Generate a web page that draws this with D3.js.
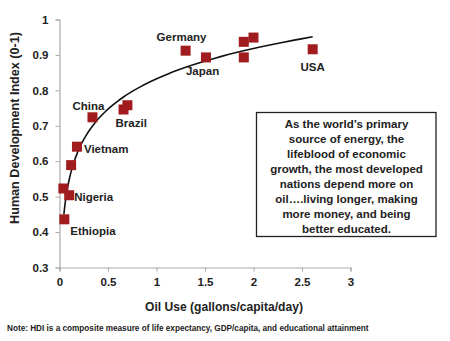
<!DOCTYPE html>
<html>
<head>
<meta charset="utf-8">
<script src="https://cdn.jsdelivr.net/npm/d3@7"></script>
<style>
  body { margin: 0; background: #fff; }
  text { font-family: "Liberation Sans", Arial, sans-serif; font-weight: bold; fill: #222; }
</style>
</head>
<body>
<div id="chart"></div>
<script>
// country points: oil use (gallons/capita/day) vs HDI
var countries = ["Germany", "Japan", "", "", "", "USA", "China", "Brazil", "", "Vietnam", "", "", "Nigeria", "Ethiopia"];
var oilUse   = [1.30, 1.51, 1.90, 2.00, 1.90, 2.61, 0.34, 0.66, 0.70, 0.18, 0.12, 0.04, 0.10, 0.05];
var hdi      = [0.912, 0.893, 0.937, 0.949, 0.893, 0.916, 0.724, 0.746, 0.758, 0.641, 0.589, 0.523, 0.504, 0.436];

var xTicks = [0, 0.5, 1, 1.5, 2, 2.5, 3];
var yTicks = [0.3, 0.4, 0.5, 0.6, 0.7, 0.8, 0.9, 1];

// logarithmic trend line y = a*ln(x) + b
var trendA = 0.1235, trendB = 0.8326;
var trendRange = [0.045, 2.61];

var boxLines = [
  "As the world\u2019s primary",
  "source of energy, the",
  "lifeblood of economic",
  "growth, the most developed",
  "nations depend more on",
  "oil\u2026.living longer, making",
  "more money, and being",
  "better educated."
];

// label offsets relative to each point
var labelPos = {
  "Germany":  { dx: -29, dy: -14, anchor: "start" },
  "Japan":    { dx: -20, dy: 14, anchor: "start" },
  "USA":      { dx: 0,   dy: 18, anchor: "middle" },
  "China":    { dx: -20, dy: -11, anchor: "start" },
  "Brazil":   { dx: -8,  dy: 13, anchor: "start" },
  "Vietnam":  { dx: 7,   dy: 2, anchor: "start" },
  "Nigeria":  { dx: 5,   dy: 2, anchor: "start" },
  "Ethiopia": { dx: 6,   dy: 12, anchor: "start" }
};

var W = 450, H = 341;
var svg = d3.select("#chart").append("svg")
    .attr("width", W)
    .attr("height", H);

var x = d3.scaleLinear().domain([0, 3]).range([59.5, 350.5]);
var y = d3.scaleLinear().domain([0.3, 1]).range([267.5, 19.5]);

// axes
var xAxis = svg.append("g")
    .attr("transform", "translate(0," + y(0.3) + ")")
    .call(d3.axisBottom(x).tickValues(xTicks).tickFormat(d3.format("")).tickSize(4).tickPadding(6));
var yAxis = svg.append("g")
    .attr("transform", "translate(" + x(0) + ",0)")
    .call(d3.axisLeft(y).tickValues(yTicks).tickFormat(d3.format("")).tickSize(4).tickPadding(7));

[xAxis, yAxis].forEach(function (g) {
  g.select(".domain").attr("stroke", "#aaa").attr("stroke-width", 1.2);
  g.selectAll(".tick line").attr("stroke", "#aaa");
  g.selectAll(".tick text")
    .attr("font-size", "11.5px")
    .attr("font-weight", "bold")
    .attr("font-family", "Liberation Sans, Arial, sans-serif")
    .attr("fill", "#222");
});

// trend line
var trendPts = d3.range(0, 101).map(function (i) {
  var v = trendRange[0] * Math.pow(trendRange[1] / trendRange[0], i / 100);
  return [v, trendA * Math.log(v) + trendB];
});
svg.append("path")
    .datum(trendPts)
    .attr("fill", "none")
    .attr("stroke", "#111")
    .attr("stroke-width", 1.6)
    .attr("d", d3.line().x(function (d) { return x(d[0]); }).y(function (d) { return y(d[1]); }));

// square markers
var pts = oilUse.map(function (v, i) { return { x: v, y: hdi[i], name: countries[i] }; });
svg.selectAll("rect.pt")
    .data(pts)
    .enter().append("rect")
    .attr("class", "pt")
    .attr("x", function (d) { return x(d.x) - 5; })
    .attr("y", function (d) { return y(d.y) - 5; })
    .attr("width", 10)
    .attr("height", 10)
    .attr("fill", "#a01c1e");

// country labels
svg.selectAll("text.lbl")
    .data(pts.filter(function (d) { return d.name; }))
    .enter().append("text")
    .attr("class", "lbl")
    .attr("x", function (d) { return x(d.x) + labelPos[d.name].dx; })
    .attr("y", function (d) { return y(d.y) + labelPos[d.name].dy; })
    .attr("dy", "0.35em")
    .attr("text-anchor", function (d) { return labelPos[d.name].anchor; })
    .attr("font-size", "11.5px")
    .text(function (d) { return d.name; });

// axis titles
svg.append("text")
    .attr("text-anchor", "middle")
    .attr("transform", "translate(15,128)rotate(-90)")
    .attr("dy", "0.35em")
    .attr("font-size", "12.6px")
    .text("Human Development Index (0-1)");

svg.append("text")
    .attr("text-anchor", "middle")
    .attr("x", 224)
    .attr("y", 307)
    .attr("dy", "0.35em")
    .attr("font-size", "12.1px")
    .text("Oil Use (gallons/capita/day)");

// note
svg.append("text")
    .attr("x", 7)
    .attr("y", 328)
    .attr("dy", "0.35em")
    .attr("font-size", "8.2px")
    .text("Note: HDI is a composite measure of life expectancy, GDP/capita, and educational attainment");

// callout box
var box = svg.append("g");
box.append("rect")
    .attr("x", 256.5)
    .attr("y", 112.5)
    .attr("width", 179.5)
    .attr("height", 124)
    .attr("fill", "#fff")
    .attr("stroke", "#222")
    .attr("stroke-width", 1.3);
box.selectAll("text")
    .data(boxLines)
    .enter().append("text")
    .attr("x", 346.5)
    .attr("y", function (d, i) { return 123.5 + i * 15; })
    .attr("dy", "0.35em")
    .attr("text-anchor", "middle")
    .attr("font-size", "11.5px")
    .text(function (d) { return d; });
</script>
</body>
</html>
